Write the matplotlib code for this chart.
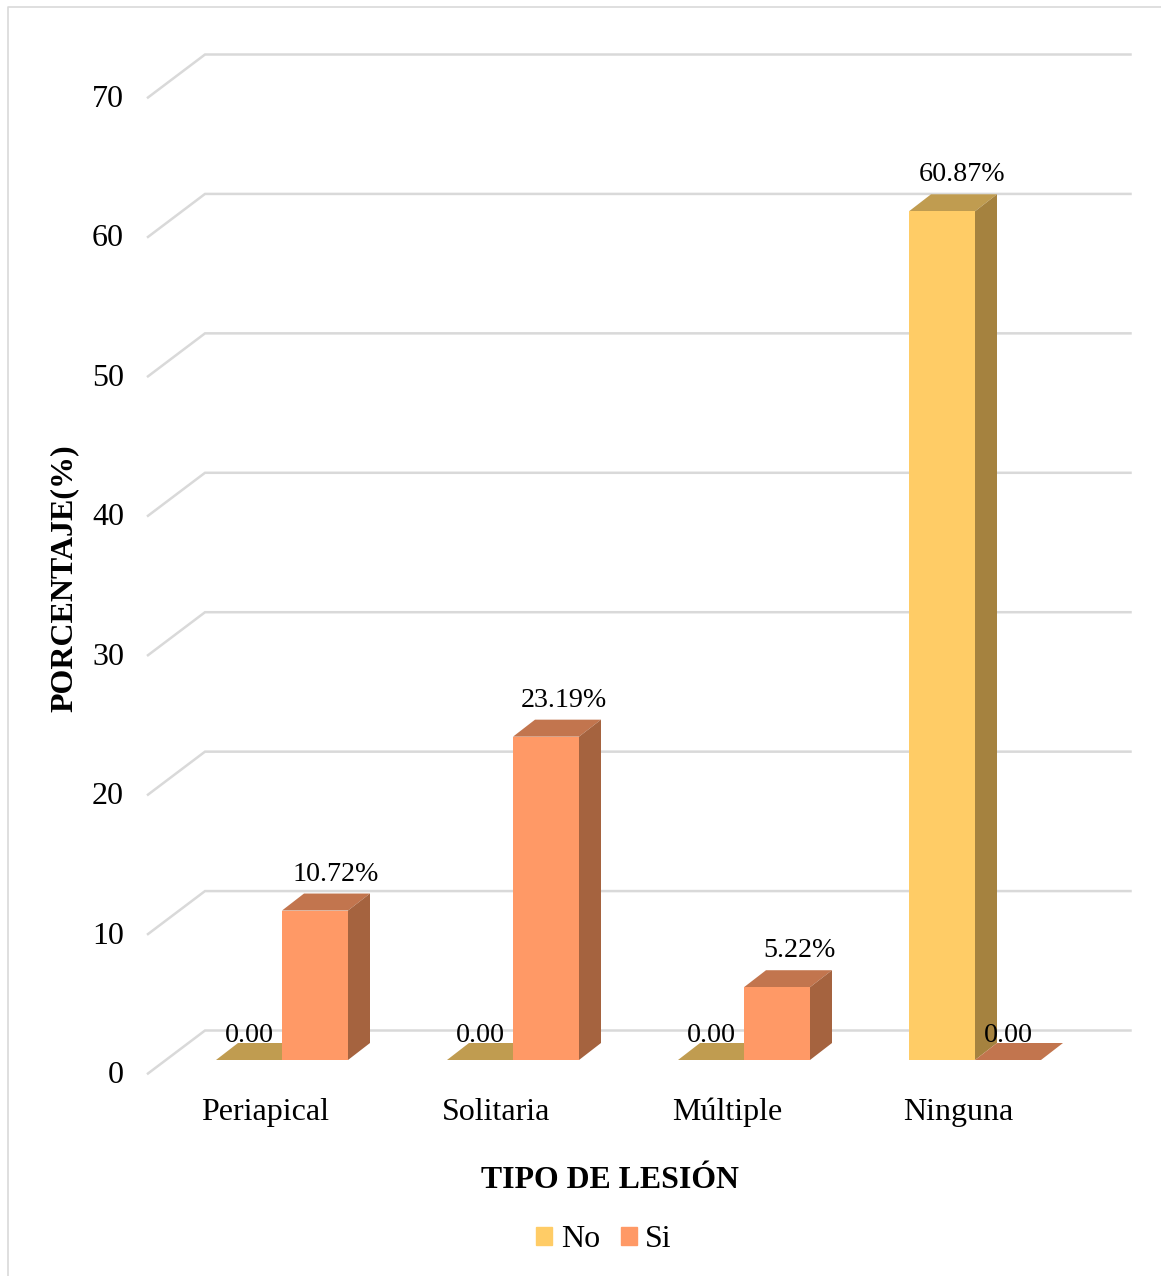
import numpy as np
import matplotlib
matplotlib.use('Agg')
import matplotlib.pyplot as plt
from matplotlib.lines import Line2D
from matplotlib.patches import Patch, Polygon
from matplotlib.transforms import IdentityTransform

# Donnees
categories = ['Periapical', 'Solitaria', 'Múltiple', 'Ninguna']
series_no = [0.00, 0.00, 0.00, 60.87]
series_si = [10.72, 23.19, 5.22, 0.00]
y_ticks = [0, 10, 20, 30, 40, 50, 60, 70]
label_shift_no = [0, 0, 0, 20]
label_shift_si = [20.5, 17.5, 22.5, 0]

plt.rcParams['font.family'] = ['Liberation Serif', 'DejaVu Serif']

W, H = 1161, 1276
fig = plt.figure(figsize=(W / 100, H / 100), dpi=100)
# zero at y=1060 px, 70 at y=84 px, one category = 231 px
ax = fig.add_axes([166.5 / W, (H - 1060) / H, 924 / W, 976 / H])
ax.set_xlim(-0.5, 3.5)
ax.set_ylim(0, 70)
ax.axis('off')

BAR_W = 66 / 231
DX, DY = 22, 17   # profondeur des barres
GRID = '#D9D9D9'
COL_NO = ('#FFCC66', '#C09C50', '#A5823F')
COL_SI = ('#FF9966', '#C2754E', '#A5633F')
x_wall_left = -0.5 + 38.5 / 231
x_wall_right = 3.5 + 40 / 231
identity = IdentityTransform()


def px(x, y, dx=0, dy=0):
    """Data -> display, avec un decalage en pixels"""
    p = ax.transData.transform((x, y))
    return (p[0] + dx, p[1] + dy)


def face(points, color, z):
    fig_patch = Polygon(points, closed=True, facecolor=color, edgecolor='none',
                        transform=identity, zorder=z, clip_on=False)
    ax.add_patch(fig_patch)


def draw_depth(x_left, value, colors, z):
    x_right = x_left + BAR_W
    face([px(x_left, value), px(x_right, value),
          px(x_right, value, DX, DY), px(x_left, value, DX, DY)], colors[1], z)
    if value > 0:
        face([px(x_right, 0), px(x_right, value),
              px(x_right, value, DX, DY), px(x_right, 0, DX, DY)], colors[2], z)


# Grille
for v in y_ticks:
    a = px(x_wall_left, v, -57, -13.5)
    b = px(x_wall_left, v, 0, 29.5)
    c = px(x_wall_right, v, 0, 29.5)
    ax.add_line(Line2D([a[0], b[0], c[0]], [a[1], b[1], c[1]], color=GRID, lw=1.8,
                       transform=identity, zorder=1, clip_on=False,
                       solid_joinstyle='miter'))
    ax.annotate(str(v), (x_wall_left, v), xytext=(-81, -15.5), textcoords='offset pixels',
                ha='right', va='center', fontsize=23, color='black', annotation_clip=False)

# Barres
x = np.arange(len(categories))
for i in x:
    # un index plus petit passe derriere
    draw_depth(i - BAR_W, series_no[i], COL_NO, 2)
    draw_depth(i, series_si[i], COL_SI, 2)
ax.bar(x - BAR_W / 2, series_no, BAR_W, color=COL_NO[0], zorder=3)
ax.bar(x + BAR_W / 2, series_si, BAR_W, color=COL_SI[0], zorder=3)

# Etiquettes
for i in x:
    for values, shifts, xc in ((series_no, label_shift_no, i - BAR_W / 2),
                               (series_si, label_shift_si, i + BAR_W / 2)):
        v = values[i]
        txt = f'{v:.2f}%' if v > 0 else f'{v:.2f}'
        ax.annotate(txt, (xc, v), xytext=(shifts[i], 36.5 if v > 0 else 25),
                    textcoords='offset pixels', ha='center', va='center',
                    fontsize=20.2, color='black', zorder=5, annotation_clip=False)
    ax.annotate(categories[i], (i, 0), xytext=(-16.5, -52.5), textcoords='offset pixels',
                ha='center', va='center', fontsize=23, color='black', annotation_clip=False)

# Titres des axes
fig.text(609.5 / W, 1 - 1180.5 / H, 'TIPO DE LESIÓN', ha='center', va='center',
         fontsize=22.9, fontweight='bold')
fig.text(64 / W, 1 - 578 / H, 'PORCENTAJE(%)', ha='center', va='center',
         rotation=90, fontsize=23, fontweight='bold')

# Legende
handles = [Patch(color=COL_NO[0], label='No'), Patch(color=COL_SI[0], label='Si')]
fig.legend(handles=handles, loc='center', bbox_to_anchor=(604 / W, 1 - 1239.5 / H), ncol=2,
           frameon=False, fontsize=23, handlelength=0.5, handleheight=0.5,
           handletextpad=0.26, columnspacing=0.65, borderpad=0, borderaxespad=0)

# Cadre du graphique
fig.add_artist(Line2D([7.8 / W, 7.8 / W, 1], [0, 1 - 6.5 / H, 1 - 6.5 / H],
                      color=GRID, lw=1.2, transform=fig.transFigure))

fig.savefig('out.png', dpi=100)
